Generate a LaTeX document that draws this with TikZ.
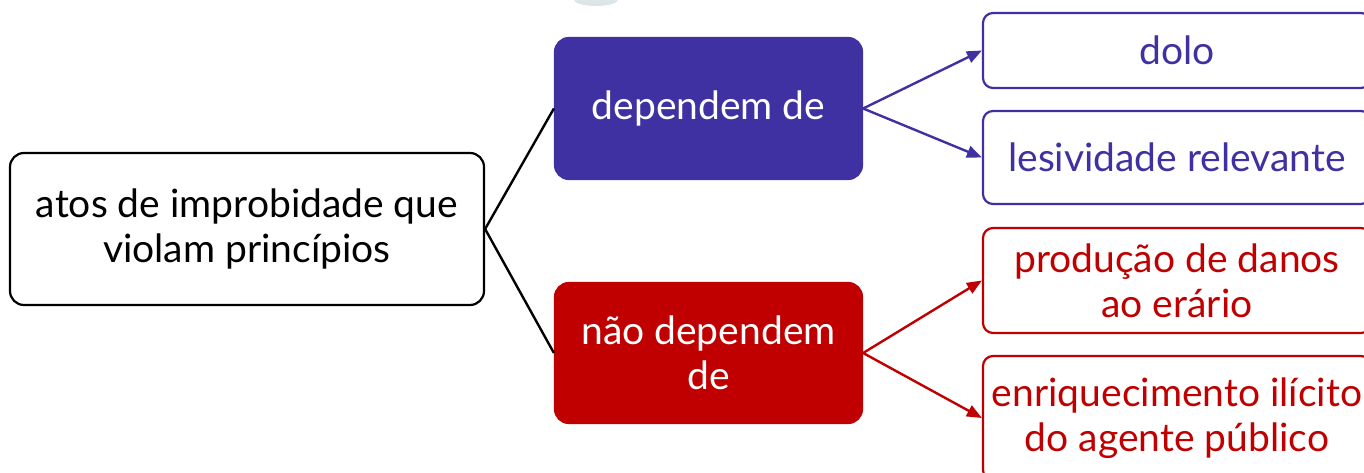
\documentclass[tikz,border=0pt]{standalone}
\usepackage{fontspec}
\setmainfont{Lato}
\usetikzlibrary{arrows.meta}
\definecolor{myblue}{HTML}{4031A2}
\definecolor{myred}{HTML}{C00000}
\definecolor{blobgray}{HTML}{DEE5E8}
\tikzset{
  box/.style={rectangle, rounded corners=14pt, line width=2.2pt, align=center,
    font=\fontsize{39}{45}\selectfont, inner sep=0pt},
  leaf/.style={rectangle, rounded corners=10pt, line width=2.2pt, align=center, fill=white,
    font=\fontsize{39}{45}\selectfont, inner sep=0pt, minimum width=388pt},
  link/.style={line width=2.4pt},
  arr/.style={line width=2.4pt, -{Triangle[length=15pt,width=12pt]}},
}
\begin{document}
\begin{tikzpicture}[x=1pt,y=-1pt]
\useasboundingbox (0,0) rectangle (1364,473);
\clip (0,0) rectangle (1364,473);
\fill[blobgray] (596,0) ellipse [x radius=22, y radius=6];
\node[box, draw=black, minimum width=474pt, minimum height=152pt] (root) at (247,229) {atos de improbidade que\\violam princípios};
\node[box, draw=myblue, fill=myblue, text=white, minimum width=307pt, minimum height=141pt] (dep) at (708.5,108.5) {dependem de};
\node[box, draw=myred, fill=myred, text=white, minimum width=307pt, minimum height=140pt] (ndep) at (708.5,353) {não dependem\\de};
\node[leaf, draw=myblue, text=myblue, minimum height=75pt] (dolo) at (1177,50.5) {dolo};
\node[leaf, draw=myblue, text=myblue, minimum height=93pt] (lesiv) at (1177,157.5) {lesividade relevante};
\node[leaf, draw=myred, text=myred, minimum height=105pt] (prod) at (1177,280.5) {produção de danos\\ao erário};
\node[leaf, draw=myred, text=myred, minimum height=124pt] (enr) at (1177,418) {enriquecimento ilícito\\do agente público};
\draw[link] (root.east) -- (dep.west);
\draw[link] (root.east) -- (ndep.west);
\draw[arr, myblue] (dep.east) -- (dolo.west);
\draw[arr, myblue] (dep.east) -- (lesiv.west);
\draw[arr, myred] (ndep.east) -- (prod.west);
\draw[arr, myred] (ndep.east) -- (enr.west);
\end{tikzpicture}
\end{document}
